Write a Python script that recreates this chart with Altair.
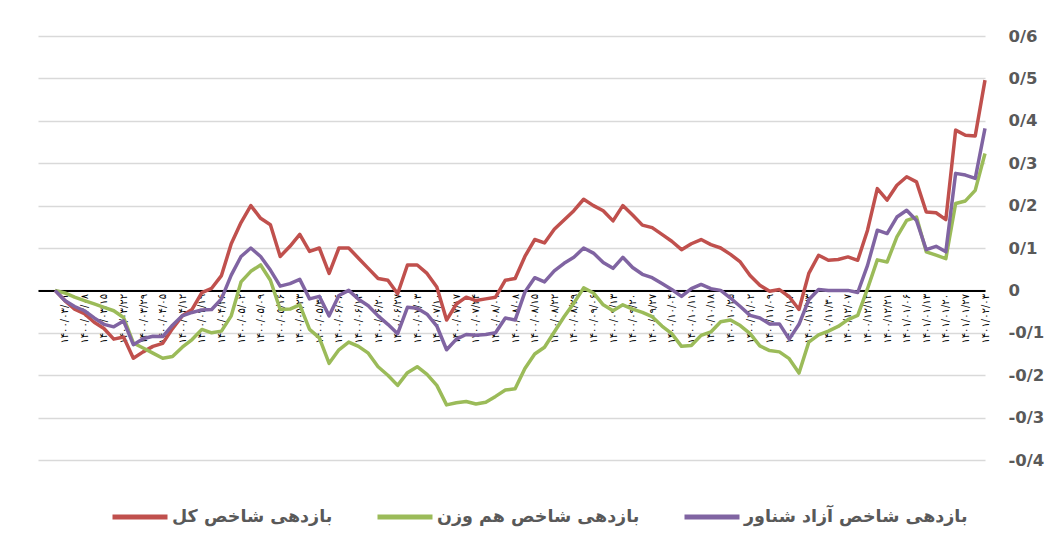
import json
import altair as alt
import pandas as pd

# ---- data (index = trading-day sample) ----
RED = [0, -0.024, -0.044, -0.055, -0.075, -0.09, -0.115, -0.11, -0.16, -0.145,
       -0.132, -0.125, -0.09, -0.06, -0.045, -0.005, 0.005, 0.035, 0.11, 0.16,
       0.2, 0.17, 0.155, 0.08, 0.104, 0.132, 0.092, 0.1, 0.04, 0.1,
       0.1, 0.076, 0.052, 0.028, 0.024, -0.008, 0.06, 0.06, 0.04, 0.008,
       -0.07, -0.032, -0.016, -0.024, -0.02, -0.016, 0.024, 0.028, 0.08, 0.12,
       0.112, 0.144, 0.166, 0.188, 0.215, 0.2, 0.188, 0.164, 0.2, 0.178,
       0.154, 0.148, 0.132, 0.116, 0.096, 0.11, 0.12, 0.108, 0.1, 0.085,
       0.067, 0.035, 0.012, -0.002, 0.002, -0.015, -0.045, 0.04, 0.083, 0.071,
       0.073, 0.079, 0.071, 0.142, 0.24, 0.213, 0.248, 0.268, 0.256, 0.185,
       0.183, 0.167, 0.378, 0.366, 0.364, 0.496]

GREEN = [0, -0.006, -0.016, -0.024, -0.032, -0.04, -0.048, -0.064, -0.124, -0.136,
         -0.148, -0.16, -0.156, -0.134, -0.116, -0.092, -0.1, -0.096, -0.06, 0.02,
         0.045, 0.06, 0.024, -0.045, -0.044, -0.034, -0.092, -0.112, -0.172, -0.14,
         -0.122, -0.132, -0.148, -0.18, -0.2, -0.224, -0.194, -0.18, -0.198, -0.224,
         -0.27, -0.265, -0.262, -0.268, -0.264, -0.25, -0.235, -0.232, -0.184, -0.15,
         -0.134, -0.098, -0.062, -0.03, 0.006, -0.006, -0.034, -0.048, -0.034, -0.044,
         -0.052, -0.062, -0.084, -0.102, -0.132, -0.13, -0.106, -0.098, -0.074, -0.07,
         -0.083, -0.102, -0.131, -0.142, -0.145, -0.161, -0.195, -0.122, -0.105, -0.096,
         -0.085, -0.069, -0.059, 0.004, 0.072, 0.067, 0.126, 0.165, 0.173, 0.091,
         0.083, 0.075, 0.205, 0.211, 0.236, 0.323]

PURPLE = [0, -0.024, -0.038, -0.048, -0.065, -0.08, -0.086, -0.072, -0.128, -0.114,
          -0.108, -0.109, -0.082, -0.06, -0.052, -0.046, -0.045, -0.02, 0.036, 0.08,
          0.1, 0.08, 0.048, 0.01, 0.016, 0.026, -0.02, -0.014, -0.06, -0.012,
          0.0, -0.021, -0.036, -0.06, -0.08, -0.102, -0.04, -0.042, -0.056, -0.084,
          -0.14, -0.115, -0.104, -0.106, -0.104, -0.1, -0.065, -0.07, -0.004, 0.03,
          0.02, 0.046, 0.064, 0.078, 0.1, 0.088, 0.066, 0.052, 0.078, 0.054,
          0.038, 0.03, 0.016, 0.002, -0.014, 0.004, 0.014, 0.004, 0.0, -0.018,
          -0.038, -0.059, -0.065, -0.079, -0.079, -0.115, -0.08, -0.022, 0.002, 0.0,
          0.0, 0.0, -0.005, 0.059, 0.142, 0.134, 0.173, 0.189, 0.165, 0.096,
          0.104, 0.091, 0.276, 0.272, 0.264, 0.382]

SERIES = ["بازدهی شاخص کل", "بازدهی شاخص هم وزن", "بازدهی شاخص آزاد شناور"]
COLORS = ["#c0504d", "#9bbb59", "#8064a2"]

DATES = ["۱۴۰۰/۰۳/۰۱", "۱۴۰۰/۰۳/۰۸", "۱۴۰۰/۰۳/۱۵", "۱۴۰۰/۰۳/۲۲", "۱۴۰۰/۰۳/۲۹",
         "۱۴۰۰/۰۴/۰۵", "۱۴۰۰/۰۴/۱۲", "۱۴۰۰/۰۴/۱۹", "۱۴۰۰/۰۴/۲۶",
         "۱۴۰۰/۰۵/۰۲", "۱۴۰۰/۰۵/۰۹", "۱۴۰۰/۰۵/۱۶", "۱۴۰۰/۰۵/۲۳", "۱۴۰۰/۰۵/۳۰",
         "۱۴۰۰/۰۶/۰۶", "۱۴۰۰/۰۶/۱۳", "۱۴۰۰/۰۶/۲۰", "۱۴۰۰/۰۶/۲۷",
         "۱۴۰۰/۰۷/۰۳", "۱۴۰۰/۰۷/۱۰", "۱۴۰۰/۰۷/۱۷", "۱۴۰۰/۰۷/۲۴",
         "۱۴۰۰/۰۸/۰۱", "۱۴۰۰/۰۸/۰۸", "۱۴۰۰/۰۸/۱۵", "۱۴۰۰/۰۸/۲۲", "۱۴۰۰/۰۸/۲۹",
         "۱۴۰۰/۰۹/۰۶", "۱۴۰۰/۰۹/۱۳", "۱۴۰۰/۰۹/۲۰", "۱۴۰۰/۰۹/۲۷",
         "۱۴۰۰/۱۰/۰۴", "۱۴۰۰/۱۰/۱۱", "۱۴۰۰/۱۰/۱۸", "۱۴۰۰/۱۰/۲۵",
         "۱۴۰۰/۱۱/۰۲", "۱۴۰۰/۱۱/۰۹", "۱۴۰۰/۱۱/۱۶", "۱۴۰۰/۱۱/۲۳", "۱۴۰۰/۱۱/۳۰",
         "۱۴۰۰/۱۲/۰۷", "۱۴۰۰/۱۲/۱۴", "۱۴۰۰/۱۲/۲۱",
         "۱۴۰۱/۰۱/۰۶", "۱۴۰۱/۰۱/۱۳", "۱۴۰۱/۰۱/۲۰", "۱۴۰۱/۰۱/۲۷", "۱۴۰۱/۰۲/۰۳"]
LABEL_IDX = list(range(1, 96, 2))   # one date label every second sample
Y_TICKS = [-0.4, -0.3, -0.2, -0.1, 0, 0.1, 0.2, 0.3, 0.4, 0.5, 0.6]

rows = []
for name, vals in zip(SERIES, [RED, GREEN, PURPLE]):
    for i, v in enumerate(vals):
        rows.append({"i": i, "v": v, "s": name})
df = pd.DataFrame(rows)

W, H = 947, 424
YMIN, YMAX = -0.4, 0.6
zero_offset = -H * (0 - YMIN) / (YMAX - YMIN)

x_label_expr = json.dumps(DATES, ensure_ascii=False) + "[round((datum.value - 1) / 2)]"
y_label_expr = "replace(replace(format(datum.value, '.1~f'), '.', '/'), '\u2212', '-')"

chart = alt.Chart(df).mark_line(strokeWidth=3.5, strokeJoin="round").encode(
    x=alt.X("i:Q", scale=alt.Scale(domain=[-1.74, 95], nice=False, zero=False),
            axis=alt.Axis(values=LABEL_IDX, labelExpr=x_label_expr, title=None,
                          orient="bottom", offset=zero_offset, grid=False, ticks=False,
                          domainColor="#000000", domainWidth=2,
                          labelAngle=270, labelAlign="right", labelBaseline="middle",
                          labelFont="DejaVu Sans", labelFontSize=10, labelColor="#000000",
                          labelPadding=3, labelOverlap=False, labelFlush=False, labelBound=False)),
    y=alt.Y("v:Q", scale=alt.Scale(domain=[YMIN, YMAX], nice=False),
            axis=alt.Axis(values=Y_TICKS, labelExpr=y_label_expr, title=None, orient="right",
                          domain=False, ticks=False, grid=True, gridColor="#d9d9d9", gridWidth=1.5,
                          labelAlign="left", labelPadding=23, labelFont="DejaVu Sans",
                          labelFontWeight="bold", labelFontSize=16.5, labelColor="#595959")),
    color=alt.Color("s:N", scale=alt.Scale(domain=SERIES, range=COLORS),
                    legend=alt.Legend(title=None, orient="none", legendX=72, legendY=451,
                                      direction="horizontal", columns=3, symbolType="stroke",
                                      symbolSize=3025, symbolStrokeWidth=5, padding=0,
                                      labelFont="DejaVu Sans", labelFontWeight="bold",
                                      labelFontSize=17.5, labelColor="#595959", labelOffset=2,
                                      columnPadding=34, labelLimit=400)),
    detail="s:N",
).properties(
    width=W, height=H, autosize="none",
    padding={"left": 30, "top": 28, "right": 60, "bottom": 70},
).configure_view(stroke=None)

chart.save("out.html", embed_options={"renderer": "svg", "actions": False})
